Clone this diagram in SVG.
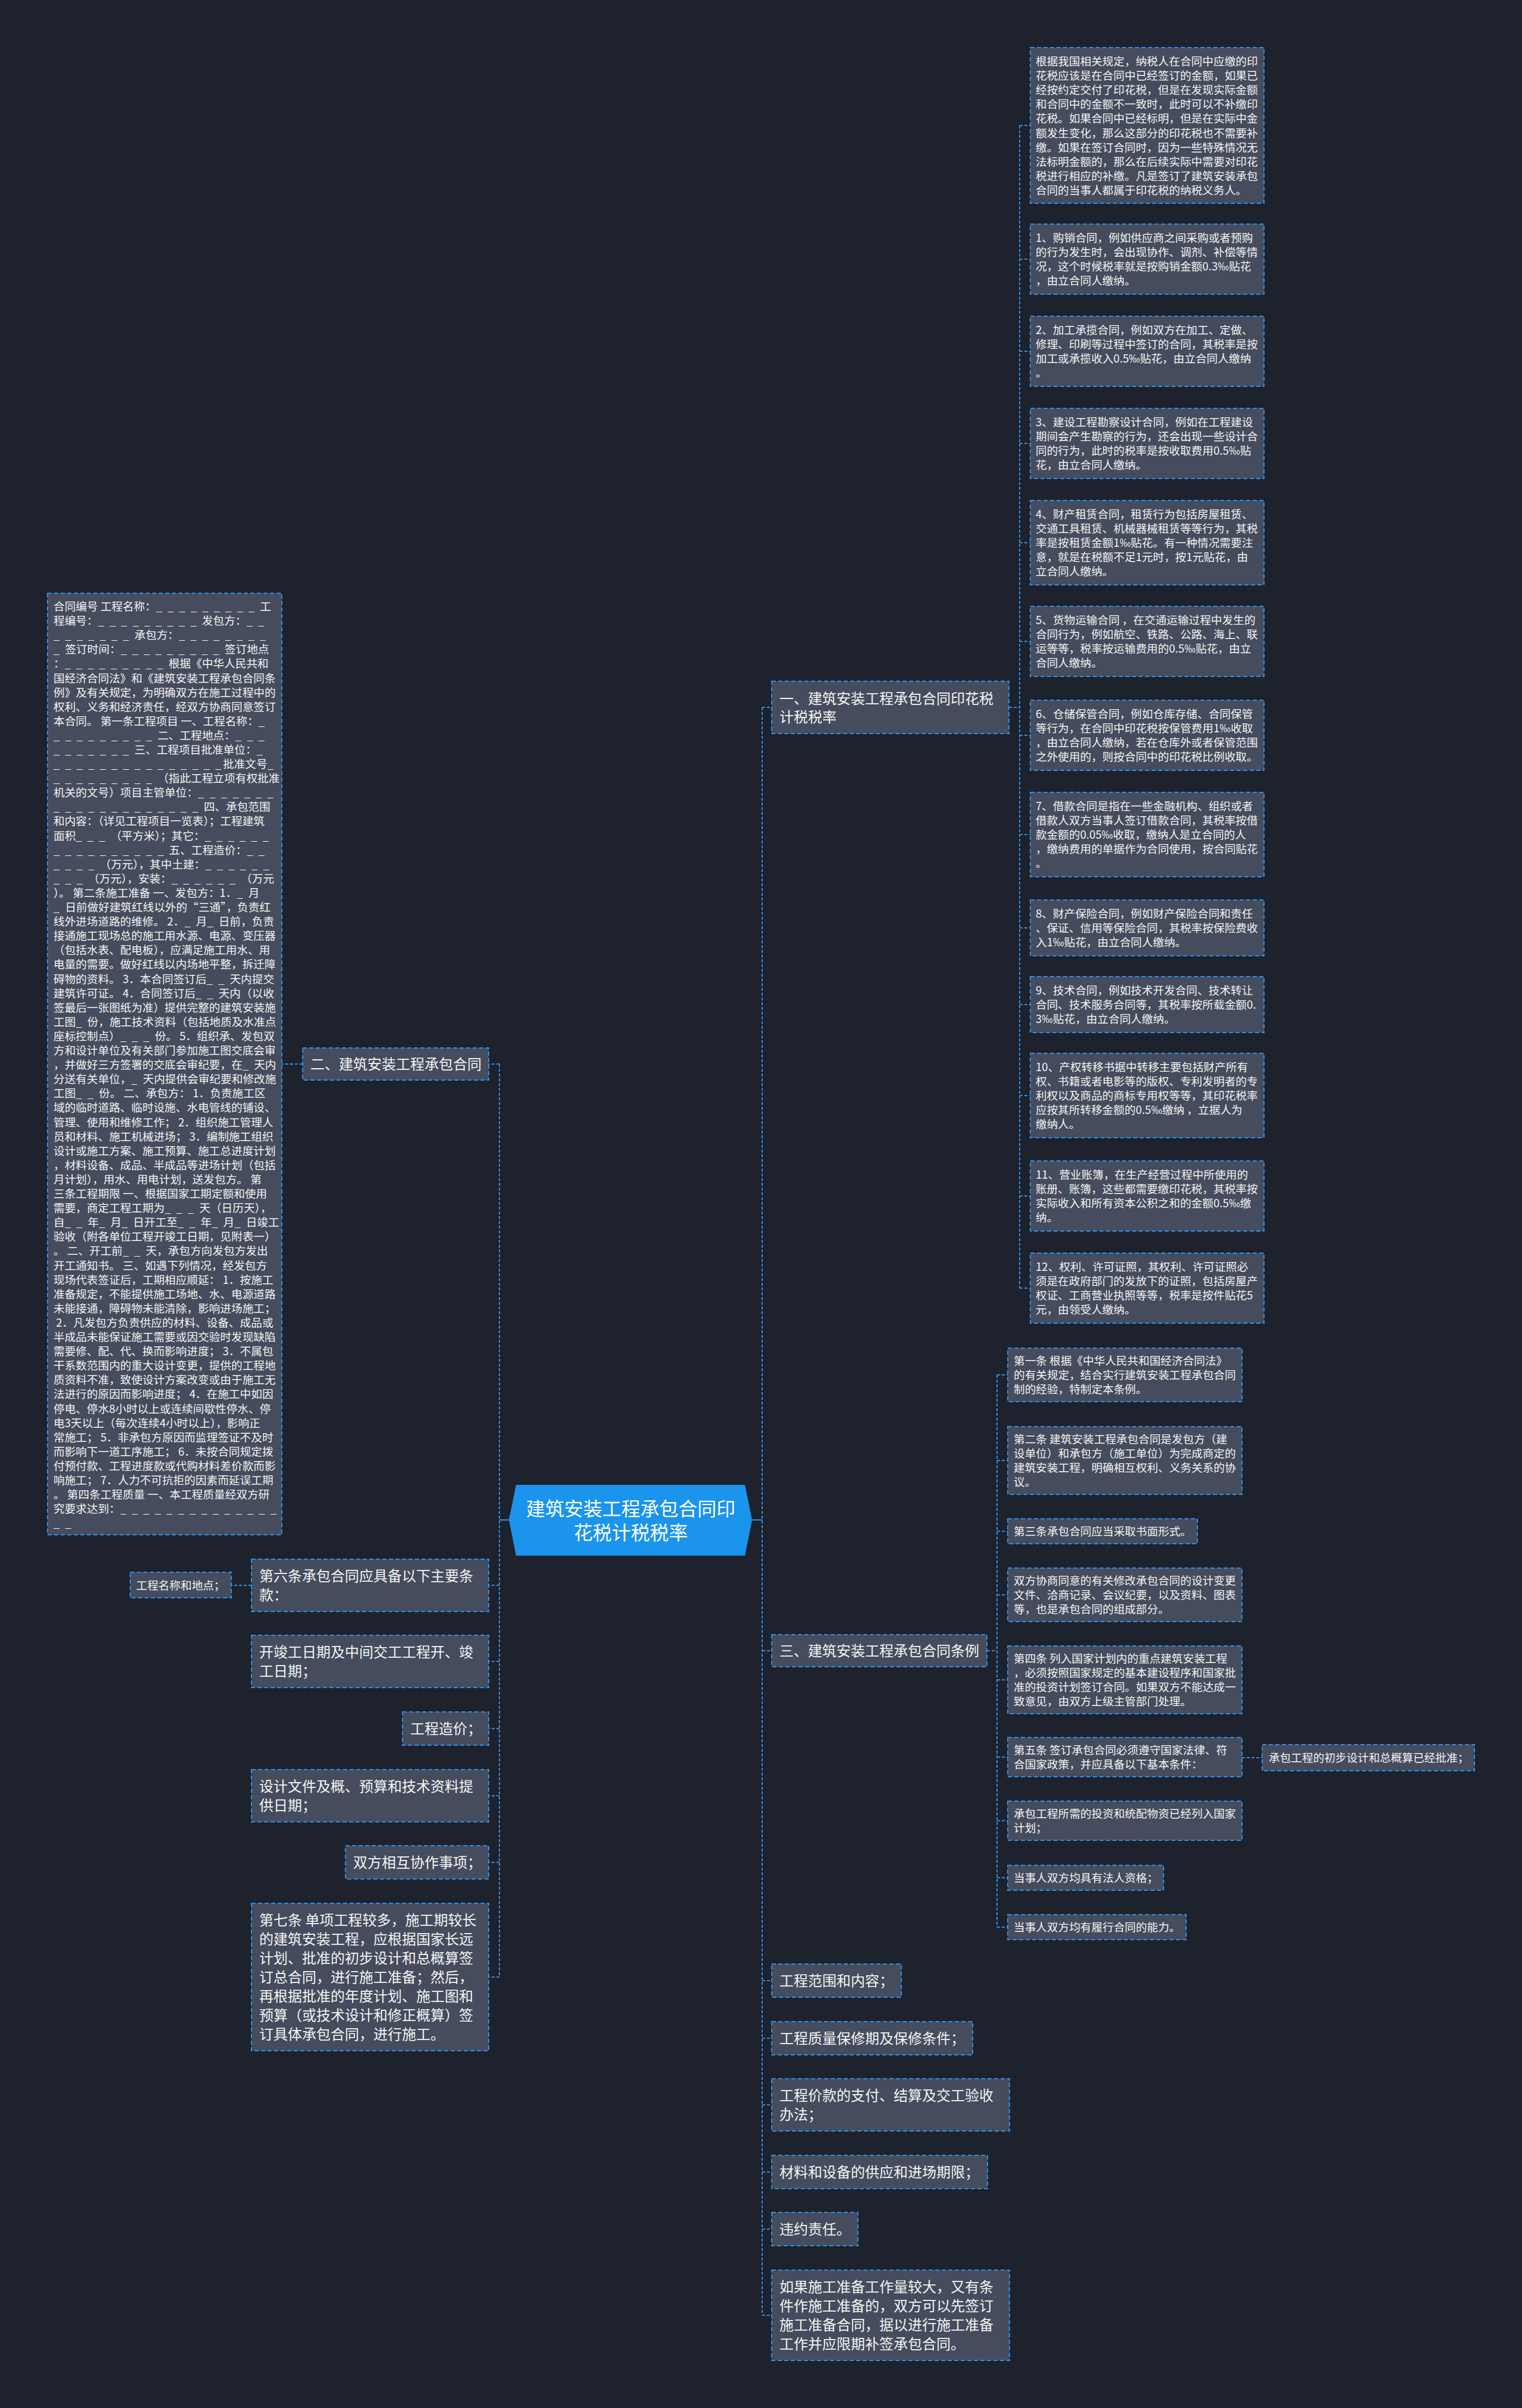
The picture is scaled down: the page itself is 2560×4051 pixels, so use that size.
<svg xmlns="http://www.w3.org/2000/svg" width="2560" height="4051" viewBox="0 0 2560 4051">
<style>
.box{fill:#454c5d;stroke:#2d8ee6;stroke-width:2;stroke-dasharray:7 4}
.ln{fill:none;stroke:#2d8ee6;stroke-width:2;stroke-dasharray:5 3}
.sl{fill:none;stroke:#2d8ee6;stroke-width:2}
text{font-family:"Noto Sans CJK SC","Noto Sans",sans-serif;fill:#f4f4f4}
.s{font-size:18.7px}
.m{font-size:24px}
.c{font-size:32px;fill:#ffffff;text-anchor:middle}
.u{letter-spacing:2.4px}
</style>
<rect width="2560" height="4051" fill="#1e222d"/>

<g id="connectors">
<path class="sl" d="M1265 2557H1282M856 2557H840"/>
<path class="ln" d="M1282 1190V3895M1282 1190H1298M1282 2777H1298M1282 3332H1298M1282 3429H1298M1282 3541H1298M1282 3654H1298M1282 3750H1298M1282 3895H1298"/>
<path class="ln" d="M1697 1190H1715M1715 211V2167M1715 211H1733M1715 436H1733M1715 591H1733M1715 746H1733M1715 913H1733M1715 1079H1733M1715 1237H1733M1715 1404H1733M1715 1561H1733M1715 1690H1733M1715 1843H1733M1715 2012H1733M1715 2167H1733"/>
<path class="ln" d="M1660 2777H1677M1677 2313V3242M1677 2313H1695M1677 2457H1695M1677 2576H1695M1677 2683H1695M1677 2826H1695M1677 2956H1695M1677 3063H1695M1677 3159H1695M1677 3242H1695M2089 2957H2123"/>
<path class="ln" d="M840 1790V3326M840 1790H822M840 2667H822M840 2795H822M840 2908H822M840 3021H822M840 3133H822M840 3326H822M509 1790H474M423 2667H389"/>
</g>

<g id="root">
<polygon points="856,2557 868,2498 1253,2498 1265,2557 1253,2617 868,2617" fill="#1a94ec"/>
<text class="c"><tspan x="1061" y="2550">建筑安装工程承包合同印</tspan><tspan x="1061" y="2590">花税计税税率</tspan></text>
</g>

<g id="b1">
<rect class="box" x="1298" y="1146" width="399" height="88"/>
<text class="m"><tspan x="1311" y="1184">一、建筑安装工程承包合同印花税</tspan><tspan x="1311" y="1215">计税税率</tspan></text>
</g>
<g id="b1-0">
<rect class="box" x="1733" y="80" width="393" height="262"/>
<text class="s"><tspan x="1742" y="110">根据我国相关规定，纳税人在合同中应缴的印</tspan><tspan x="1742" y="134">花税应该是在合同中已经签订的金额，如果已</tspan><tspan x="1742" y="158">经按约定交付了印花税，但是在发现实际金额</tspan><tspan x="1742" y="182">和合同中的金额不一致时，此时可以不补缴印</tspan><tspan x="1742" y="206">花税。如果合同中已经标明，但是在实际中金</tspan><tspan x="1742" y="231">额发生变化，那么这部分的印花税也不需要补</tspan><tspan x="1742" y="255">缴。如果在签订合同时，因为一些特殊情况无</tspan><tspan x="1742" y="279">法标明金额的，那么在后续实际中需要对印花</tspan><tspan x="1742" y="303">税进行相应的补缴。凡是签订了建筑安装承包</tspan><tspan x="1742" y="327">合同的当事人都属于印花税的纳税义务人。</tspan></text>
</g>
<g id="b1-1">
<rect class="box" x="1733" y="377" width="393" height="118"/>
<text class="s"><tspan x="1742" y="407">1、购销合同，例如供应商之间采购或者预购</tspan><tspan x="1742" y="431">的行为发生时，会出现协作、调剂、补偿等情</tspan><tspan x="1742" y="455">况，这个时候税率就是按购销金额0.3‰贴花</tspan><tspan x="1742" y="479">，由立合同人缴纳。</tspan></text>
</g>
<g id="b1-2">
<rect class="box" x="1733" y="532" width="393" height="118"/>
<text class="s"><tspan x="1742" y="562">2、加工承揽合同，例如双方在加工、定做、</tspan><tspan x="1742" y="586">修理、印刷等过程中签订的合同，其税率是按</tspan><tspan x="1742" y="610">加工或承揽收入0.5‰贴花，由立合同人缴纳</tspan><tspan x="1742" y="634">。</tspan></text>
</g>
<g id="b1-3">
<rect class="box" x="1733" y="687" width="393" height="118"/>
<text class="s"><tspan x="1742" y="717">3、建设工程勘察设计合同，例如在工程建设</tspan><tspan x="1742" y="741">期间会产生勘察的行为，还会出现一些设计合</tspan><tspan x="1742" y="765">同的行为，此时的税率是按收取费用0.5‰贴</tspan><tspan x="1742" y="789">花，由立合同人缴纳。</tspan></text>
</g>
<g id="b1-4">
<rect class="box" x="1733" y="842" width="393" height="142"/>
<text class="s"><tspan x="1742" y="872">4、财产租赁合同，租赁行为包括房屋租赁、</tspan><tspan x="1742" y="896">交通工具租赁、机械器械租赁等等行为，其税</tspan><tspan x="1742" y="920">率是按租赁金额1‰贴花。有一种情况需要注</tspan><tspan x="1742" y="944">意，就是在税额不足1元时，按1元贴花，由</tspan><tspan x="1742" y="968">立合同人缴纳。</tspan></text>
</g>
<g id="b1-5">
<rect class="box" x="1733" y="1020" width="393" height="118"/>
<text class="s"><tspan x="1742" y="1050">5、货物运输合同 ，在交通运输过程中发生的</tspan><tspan x="1742" y="1074">合同行为，例如航空、铁路、公路、海上、联</tspan><tspan x="1742" y="1098">运等等，税率按运输费用的0.5‰贴花，由立</tspan><tspan x="1742" y="1122">合同人缴纳。</tspan></text>
</g>
<g id="b1-6">
<rect class="box" x="1733" y="1178" width="393" height="118"/>
<text class="s"><tspan x="1742" y="1208">6、仓储保管合同，例如仓库存储、合同保管</tspan><tspan x="1742" y="1232">等行为，在合同中印花税按保管费用1‰收取</tspan><tspan x="1742" y="1256">，由立合同人缴纳，若在仓库外或者保管范围</tspan><tspan x="1742" y="1280">之外使用的，则按合同中的印花税比例收取。</tspan></text>
</g>
<g id="b1-7">
<rect class="box" x="1733" y="1333" width="393" height="142"/>
<text class="s"><tspan x="1742" y="1363">7、借款合同是指在一些金融机构、组织或者</tspan><tspan x="1742" y="1387">借款人双方当事人签订借款合同，其税率按借</tspan><tspan x="1742" y="1411">款金额的0.05‰收取，缴纳人是立合同的人</tspan><tspan x="1742" y="1435">，缴纳费用的单据作为合同使用，按合同贴花</tspan><tspan x="1742" y="1459">。</tspan></text>
</g>
<g id="b1-8">
<rect class="box" x="1733" y="1514" width="393" height="94"/>
<text class="s"><tspan x="1742" y="1544">8、财产保险合同，例如财产保险合同和责任</tspan><tspan x="1742" y="1568">、保证、信用等保险合同，其税率按保险费收</tspan><tspan x="1742" y="1592">入1‰贴花，由立合同人缴纳。</tspan></text>
</g>
<g id="b1-9">
<rect class="box" x="1733" y="1643" width="393" height="94"/>
<text class="s"><tspan x="1742" y="1673">9、技术合同，例如技术开发合同、技术转让</tspan><tspan x="1742" y="1697">合同、技术服务合同等，其税率按所载金额0.</tspan><tspan x="1742" y="1721">3‰贴花，由立合同人缴纳。</tspan></text>
</g>
<g id="b1-10">
<rect class="box" x="1733" y="1772" width="393" height="142"/>
<text class="s"><tspan x="1742" y="1802">10、产权转移书据中转移主要包括财产所有</tspan><tspan x="1742" y="1826">权、书籍或者电影等的版权、专利发明者的专</tspan><tspan x="1742" y="1850">利权以及商品的商标专用权等等，其印花税率</tspan><tspan x="1742" y="1874">应按其所转移金额的0.5‰缴纳 ，立据人为</tspan><tspan x="1742" y="1898">缴纳人。</tspan></text>
</g>
<g id="b1-11">
<rect class="box" x="1733" y="1953" width="393" height="118"/>
<text class="s"><tspan x="1742" y="1983">11、营业账簿，在生产经营过程中所使用的</tspan><tspan x="1742" y="2007">账册、账簿，这些都需要缴印花税，其税率按</tspan><tspan x="1742" y="2031">实际收入和所有资本公积之和的金额0.5‰缴</tspan><tspan x="1742" y="2055">纳。</tspan></text>
</g>
<g id="b1-12">
<rect class="box" x="1733" y="2108" width="393" height="118"/>
<text class="s"><tspan x="1742" y="2138">12、权利、许可证照，其权利、许可证照必</tspan><tspan x="1742" y="2162">须是在政府部门的发放下的证照，包括房屋产</tspan><tspan x="1742" y="2186">权证、工商营业执照等等，税率是按件贴花5</tspan><tspan x="1742" y="2210">元，由领受人缴纳。</tspan></text>
</g>

<g id="b3">
<rect class="box" x="1298" y="2750" width="362" height="54"/>
<text class="m" x="1311" y="2786">三、建筑安装工程承包合同条例</text>
</g>
<g id="b3-0">
<rect class="box" x="1695" y="2268" width="394" height="90"/>
<text class="s"><tspan x="1705" y="2296">第一条 根据《中华人民共和国经济合同法》</tspan><tspan x="1705" y="2320">的有关规定，结合实行建筑安装工程承包合同</tspan><tspan x="1705" y="2344">制的经验，特制定本条例。</tspan></text>
</g>
<g id="b3-1">
<rect class="box" x="1695" y="2400" width="394" height="114"/>
<text class="s"><tspan x="1705" y="2428">第二条 建筑安装工程承包合同是发包方（建</tspan><tspan x="1705" y="2452">设单位）和承包方（施工单位）为完成商定的</tspan><tspan x="1705" y="2476">建筑安装工程，明确相互权利、义务关系的协</tspan><tspan x="1705" y="2500">议。</tspan></text>
</g>
<g id="b3-2">
<rect class="box" x="1695" y="2555" width="319" height="42"/>
<text class="s" x="1705" y="2583">第三条承包合同应当采取书面形式。</text>
</g>
<g id="b3-3">
<rect class="box" x="1695" y="2638" width="394" height="90"/>
<text class="s"><tspan x="1705" y="2666">双方协商同意的有关修改承包合同的设计变更</tspan><tspan x="1705" y="2690">文件、洽商记录、会议纪要，以及资料、图表</tspan><tspan x="1705" y="2714">等，也是承包合同的组成部分。</tspan></text>
</g>
<g id="b3-4">
<rect class="box" x="1695" y="2769" width="394" height="114"/>
<text class="s"><tspan x="1705" y="2797">第四条 列入国家计划内的重点建筑安装工程</tspan><tspan x="1705" y="2821">，必须按照国家规定的基本建设程序和国家批</tspan><tspan x="1705" y="2845">准的投资计划签订合同。如果双方不能达成一</tspan><tspan x="1705" y="2869">致意见，由双方上级主管部门处理。</tspan></text>
</g>
<g id="b3-5">
<rect class="box" x="1695" y="2923" width="394" height="66"/>
<text class="s"><tspan x="1705" y="2951">第五条 签订承包合同必须遵守国家法律、符</tspan><tspan x="1705" y="2975">合国家政策，并应具备以下基本条件：</tspan></text>
</g>
<g id="b3-5-0">
<rect class="box" x="2123" y="2935" width="357" height="44"/>
<text class="s" x="2134" y="2964">承包工程的初步设计和总概算已经批准；</text>
</g>
<g id="b3-6">
<rect class="box" x="1695" y="3030" width="394" height="66"/>
<text class="s"><tspan x="1705" y="3058">承包工程所需的投资和统配物资已经列入国家</tspan><tspan x="1705" y="3082">计划；</tspan></text>
</g>
<g id="b3-7">
<rect class="box" x="1695" y="3138" width="262" height="42"/>
<text class="s" x="1705" y="3166">当事人双方均具有法人资格；</text>
</g>
<g id="b3-8">
<rect class="box" x="1695" y="3221" width="300" height="42"/>
<text class="s" x="1705" y="3249">当事人双方均有履行合同的能力。</text>
</g>

<g id="r1">
<rect class="box" x="1298" y="3304" width="218" height="56"/>
<text class="m" x="1311" y="3341">工程范围和内容；</text>
</g>
<g id="r2">
<rect class="box" x="1298" y="3401" width="338" height="56"/>
<text class="m" x="1311" y="3438">工程质量保修期及保修条件；</text>
</g>
<g id="r3">
<rect class="box" x="1298" y="3497" width="400" height="88"/>
<text class="m"><tspan x="1311" y="3534">工程价款的支付、结算及交工验收</tspan><tspan x="1311" y="3566">办法；</tspan></text>
</g>
<g id="r4">
<rect class="box" x="1298" y="3626" width="363" height="56"/>
<text class="m" x="1311" y="3663">材料和设备的供应和进场期限；</text>
</g>
<g id="r5">
<rect class="box" x="1298" y="3722" width="145" height="56"/>
<text class="m" x="1311" y="3759">违约责任。</text>
</g>
<g id="r6">
<rect class="box" x="1298" y="3819" width="400" height="152"/>
<text class="m"><tspan x="1311" y="3856">如果施工准备工作量较大，又有条</tspan><tspan x="1311" y="3888">件作施工准备的，双方可以先签订</tspan><tspan x="1311" y="3920">施工准备合同，据以进行施工准备</tspan><tspan x="1311" y="3952">工作并应限期补签承包合同。</tspan></text>
</g>

<g id="b2">
<rect class="box" x="509" y="1763" width="313" height="54"/>
<text class="m" x="522" y="1799">二、建筑安装工程承包合同</text>
</g>
<g id="b2-0">
<rect class="box" x="80" y="998" width="394" height="1584"/>
<text class="s">
<tspan x="90" y="1027">合同编号 工程名称：<tspan class="u">_ _ _ _ _ _ _ _ _ </tspan>工</tspan>
<tspan x="90" y="1051">程编号：<tspan class="u">_ _ _ _ _ _ _ _ _ </tspan>发包方：<tspan class="u">_ _</tspan></tspan>
<tspan x="90" y="1075"><tspan class="u">_ _ _ _ _ _ _ </tspan>承包方：<tspan class="u">_ _ _ _ _ _ _ _</tspan></tspan>
<tspan x="90" y="1099"><tspan class="u">_ </tspan>签订时间：<tspan class="u">_ _ _ _ _ _ _ _ _ </tspan>签订地点</tspan>
<tspan x="90" y="1123">：<tspan class="u">_ _ _ _ _ _ _ _ _ </tspan>根据《中华人民共和</tspan>
<tspan x="90" y="1148">国经济合同法》和《建筑安装工程承包合同条</tspan>
<tspan x="90" y="1172">例》及有关规定，为明确双方在施工过程中的</tspan>
<tspan x="90" y="1196">权利、义务和经济责任，经双方协商同意签订</tspan>
<tspan x="90" y="1220">本合同。 第一条工程项目 一、工程名称：<tspan class="u">_</tspan></tspan>
<tspan x="90" y="1244"><tspan class="u">_ _ _ _ _ _ _ _ _ </tspan>二、工程地点：<tspan class="u">_ _ _</tspan></tspan>
<tspan x="90" y="1268"><tspan class="u">_ _ _ _ _ _ _ </tspan>三、工程项目批准单位：<tspan class="u">_</tspan></tspan>
<tspan x="90" y="1292"><tspan class="u">_ _ _ _ _ _ _ _ _ _ _ _ _ _ _</tspan>批准文号<tspan class="u">_</tspan></tspan>
<tspan x="90" y="1316"><tspan class="u">_ _ _ _ _ _ _ _ _ </tspan>（指此工程立项有权批准</tspan>
<tspan x="90" y="1340">机关的文号）项目主管单位：<tspan class="u">_ _ _ _ _ _ _</tspan></tspan>
<tspan x="90" y="1364"><tspan class="u">_ _ _ _ _ _ _ _ _ _ _ _ _ </tspan>四、承包范围</tspan>
<tspan x="90" y="1388">和内容：（详见工程项目一览表）；工程建筑</tspan>
<tspan x="90" y="1413">面积<tspan class="u">_ _ _ </tspan>（平方米）；其它：<tspan class="u">_ _ _ _ _ _</tspan></tspan>
<tspan x="90" y="1437"><tspan class="u">_ _ _ _ _ _ _ _ _ _ </tspan>五、工程造价：<tspan class="u">_ _</tspan></tspan>
<tspan x="90" y="1461"><tspan class="u">_ _ _ _ </tspan>（万元），其中土建：<tspan class="u">_ _ _ _ _ _</tspan></tspan>
<tspan x="90" y="1485"><tspan class="u">_ _ _ </tspan>（万元），安装：<tspan class="u">_ _ _ _ _ _ </tspan>（万元</tspan>
<tspan x="90" y="1509">）。 第二条施工准备 一、发包方：1．<tspan class="u">_ </tspan>月</tspan>
<tspan x="90" y="1533"><tspan class="u">_ </tspan>日前做好建筑红线以外的“三通”，负责红</tspan>
<tspan x="90" y="1557">线外进场道路的维修。 2．<tspan class="u">_ </tspan>月<tspan class="u">_ </tspan>日前，负责</tspan>
<tspan x="90" y="1581">接通施工现场总的施工用水源、电源、变压器</tspan>
<tspan x="90" y="1605">（包括水表、配电板），应满足施工用水、用</tspan>
<tspan x="90" y="1629">电量的需要。做好红线以内场地平整，拆迁障</tspan>
<tspan x="90" y="1654">碍物的资料。 3．本合同签订后<tspan class="u">_ _ </tspan>天内提交</tspan>
<tspan x="90" y="1678">建筑许可证。 4．合同签订后<tspan class="u">_ _ </tspan>天内（以收</tspan>
<tspan x="90" y="1702">签最后一张图纸为准）提供完整的建筑安装施</tspan>
<tspan x="90" y="1726">工图<tspan class="u">_ </tspan>份，施工技术资料（包括地质及水准点</tspan>
<tspan x="90" y="1750">座标控制点）<tspan class="u">_ _ _ </tspan>份。 5．组织承、发包双</tspan>
<tspan x="90" y="1774">方和设计单位及有关部门参加施工图交底会审</tspan>
<tspan x="90" y="1798">，并做好三方签署的交底会审纪要，在<tspan class="u">_ </tspan>天内</tspan>
<tspan x="90" y="1822">分送有关单位，<tspan class="u">_ </tspan>天内提供会审纪要和修改施</tspan>
<tspan x="90" y="1846">工图<tspan class="u">_ _ </tspan>份。 二、承包方： 1．负责施工区</tspan>
<tspan x="90" y="1870">域的临时道路、临时设施、水电管线的铺设、</tspan>
<tspan x="90" y="1895">管理、使用和维修工作； 2．组织施工管理人</tspan>
<tspan x="90" y="1919">员和材料、施工机械进场； 3．编制施工组织</tspan>
<tspan x="90" y="1943">设计或施工方案、施工预算、施工总进度计划</tspan>
<tspan x="90" y="1967">，材料设备、成品、半成品等进场计划（包括</tspan>
<tspan x="90" y="1991">月计划），用水、用电计划，送发包方。 第</tspan>
<tspan x="90" y="2015">三条工程期限 一、根据国家工期定额和使用</tspan>
<tspan x="90" y="2039">需要，商定工程工期为<tspan class="u">_ _ _ </tspan>天（日历天），</tspan>
<tspan x="90" y="2063">自<tspan class="u">_ _ </tspan>年<tspan class="u">_ </tspan>月<tspan class="u">_ </tspan>日开工至<tspan class="u">_ _ </tspan>年<tspan class="u">_ </tspan>月<tspan class="u">_ </tspan>日竣工</tspan>
<tspan x="90" y="2087">验收（附各单位工程开竣工日期，见附表一）</tspan>
<tspan x="90" y="2111">。 二、开工前<tspan class="u">_ _ </tspan>天，承包方向发包方发出</tspan>
<tspan x="90" y="2136">开工通知书。 三、如遇下列情况，经发包方</tspan>
<tspan x="90" y="2160">现场代表签证后，工期相应顺延： 1．按施工</tspan>
<tspan x="90" y="2184">准备规定，不能提供施工场地、水、电源道路</tspan>
<tspan x="90" y="2208">未能接通，障碍物未能清除，影响进场施工；</tspan>
<tspan x="90" y="2232">&#160;2．凡发包方负责供应的材料、设备、成品或</tspan>
<tspan x="90" y="2256">半成品未能保证施工需要或因交验时发现缺陷</tspan>
<tspan x="90" y="2280">需要修、配、代、换而影响进度； 3．不属包</tspan>
<tspan x="90" y="2304">干系数范围内的重大设计变更，提供的工程地</tspan>
<tspan x="90" y="2328">质资料不准，致使设计方案改变或由于施工无</tspan>
<tspan x="90" y="2352">法进行的原因而影响进度； 4．在施工中如因</tspan>
<tspan x="90" y="2377">停电、停水8小时以上或连续间歇性停水、停</tspan>
<tspan x="90" y="2401">电3天以上（每次连续4小时以上），影响正</tspan>
<tspan x="90" y="2425">常施工； 5．非承包方原因而监理签证不及时</tspan>
<tspan x="90" y="2449">而影响下一道工序施工； 6．未按合同规定拨</tspan>
<tspan x="90" y="2473">付预付款、工程进度款或代购材料差价款而影</tspan>
<tspan x="90" y="2497">响施工； 7．人力不可抗拒的因素而延误工期</tspan>
<tspan x="90" y="2521">。 第四条工程质量 一、本工程质量经双方研</tspan>
<tspan x="90" y="2545">究要求达到：<tspan class="u">_ _ _ _ _ _ _ _ _ _ _ _ _ _</tspan></tspan>
<tspan x="90" y="2569"><tspan class="u">_ _</tspan></tspan>
</text>
</g>

<g id="l1">
<rect class="box" x="423" y="2623" width="399" height="88"/>
<text class="m"><tspan x="436" y="2660">第六条承包合同应具备以下主要条</tspan><tspan x="436" y="2692">款：</tspan></text>
</g>
<g id="l1-0">
<rect class="box" x="219" y="2645" width="170" height="43"/>
<text class="s" x="229" y="2674">工程名称和地点；</text>
</g>
<g id="l2">
<rect class="box" x="423" y="2751" width="399" height="88"/>
<text class="m"><tspan x="436" y="2788">开竣工日期及中间交工工程开、竣</tspan><tspan x="436" y="2820">工日期；</tspan></text>
</g>
<g id="l3">
<rect class="box" x="677" y="2880" width="145" height="56"/>
<text class="m" x="690" y="2917">工程造价；</text>
</g>
<g id="l4">
<rect class="box" x="423" y="2977" width="399" height="88"/>
<text class="m"><tspan x="436" y="3014">设计文件及概、预算和技术资料提</tspan><tspan x="436" y="3046">供日期；</tspan></text>
</g>
<g id="l5">
<rect class="box" x="581" y="3105" width="241" height="56"/>
<text class="m" x="594" y="3142">双方相互协作事项；</text>
</g>
<g id="l6">
<rect class="box" x="423" y="3202" width="399" height="248"/>
<text class="m"><tspan x="436" y="3239">第七条 单项工程较多，施工期较长</tspan><tspan x="436" y="3271">的建筑安装工程，应根据国家长远</tspan><tspan x="436" y="3303">计划、批准的初步设计和总概算签</tspan><tspan x="436" y="3335">订总合同，进行施工准备；然后，</tspan><tspan x="436" y="3367">再根据批准的年度计划、施工图和</tspan><tspan x="436" y="3399">预算（或技术设计和修正概算）签</tspan><tspan x="436" y="3431">订具体承包合同，进行施工。</tspan></text>
</g>
</svg>
